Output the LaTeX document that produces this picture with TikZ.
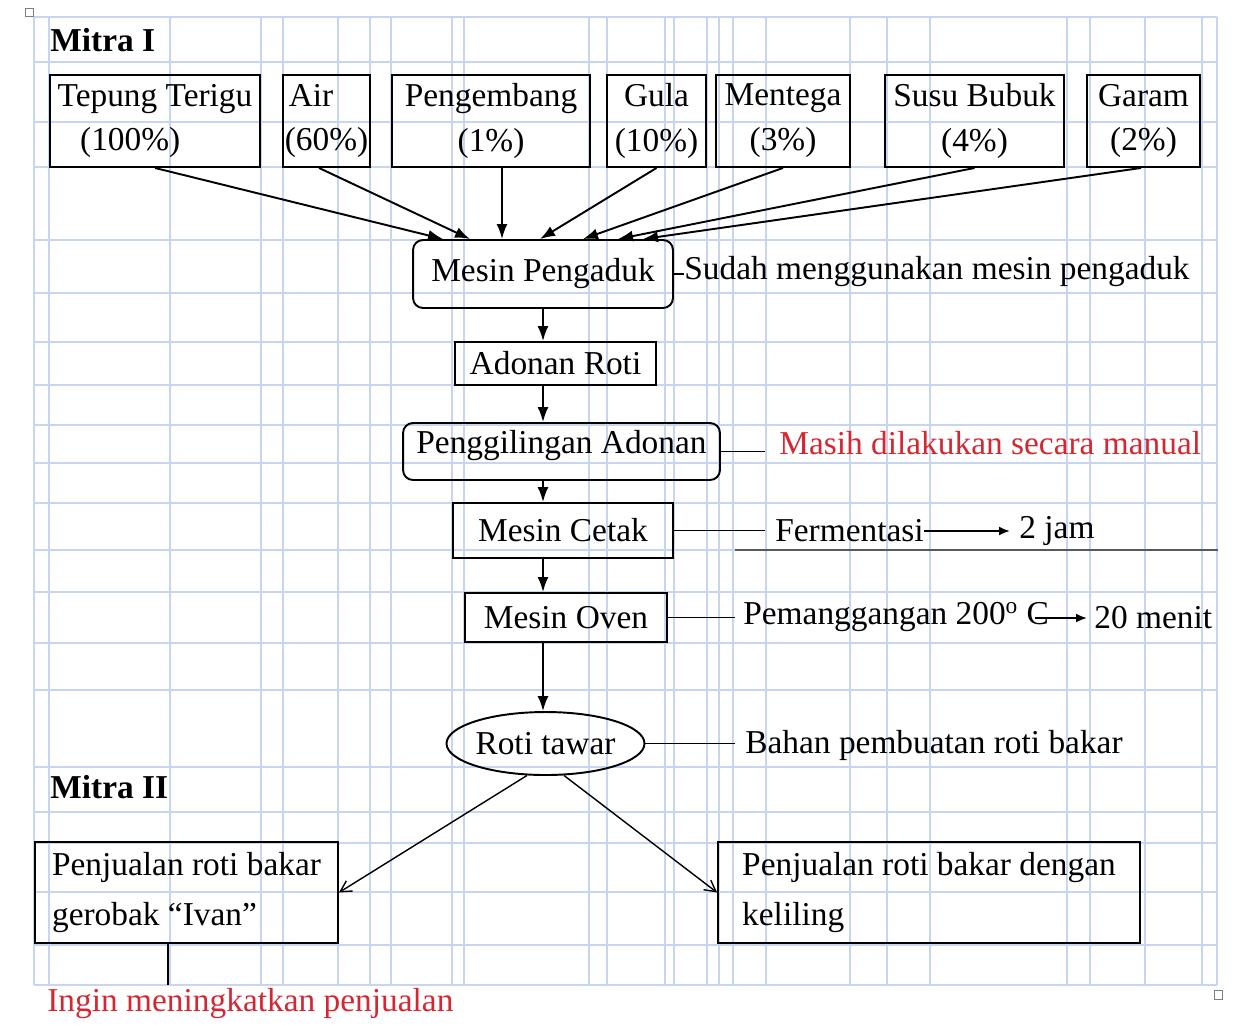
\documentclass[tikz,border=0pt]{standalone}
\usepackage{fontspec}
\setmainfont{Liberation Serif}
\usetikzlibrary{arrows.meta,shapes.geometric}
\definecolor{gridblue}{RGB}{200,213,240}
\definecolor{notered}{RGB}{214,38,50}
\begin{document}
\begin{tikzpicture}[x=0.02cm,y=-0.02cm,
  every node/.style={font=\fontsize{19}{25.6}\selectfont, inner sep=0pt},
  box/.style={draw, line width=1.1pt, align=center},
  rbox/.style={box, rounded corners=0.2cm},
  oval/.style={draw, line width=1.1pt, ellipse},
  side/.style={anchor=west},
  flow/.style={line width=1.1pt, -{Latex[length=0.3cm,width=0.22cm]}},
  smallflow/.style={line width=1.1pt, -{Latex[length=0.22cm,width=0.18cm]}},
  link/.style={line width=1.1pt},
  thinarrow/.style={line width=0.8pt, -{Straight Barb[length=0.22cm,width=0.24cm]}},
  gridln/.style={gridblue, line width=0.6pt}]
\useasboundingbox (0,0) rectangle (1239,1025);
% background table gridlines
\foreach \gx in {34,49,170,261,283,338,370,391,452,464,589,607,665,674,707,719,733,766,850,887,930,1067,1090,1145,1202,1217}
  \draw[gridln] (\gx,17) -- (\gx,985);
\foreach \gy in {17,62,122,167,240,293,342,385,425,463,503,550,592,643,690,767,812,843,892,945,985}
  \draw[gridln] (34,\gy) -- (1217,\gy);
\draw[gray!70!black, line width=0.8pt] (735,550) -- (1218,550);
\draw[gray, line width=0.5pt] (25,8) rectangle (33,16);
\draw[gray, line width=0.5pt] (1214,990) rectangle (1222,999);

% titles
\node[anchor=west] (m1) at (50,40) {\textbf{Mitra I}};
\node[anchor=west] (m2) at (50,787) {\textbf{Mitra II}};

% ingredient boxes
\node[box, align=left, minimum width=4.2cm, minimum height=1.84cm] (tep) at (155,121) {Tepung Terigu\\\hspace{0.45cm}(100\%)};
\node[box, align=left, minimum width=1.74cm, minimum height=1.84cm] (air) at (326.5,121) {\hspace{0.08cm}Air\\(60\%)};
\node[box, minimum width=3.96cm, minimum height=1.84cm] (peng) at (491,121) {Pengembang\\(1\%)};
\node[box, minimum width=1.98cm, minimum height=1.84cm] (gula) at (656.5,121) {Gula\\(10\%)};
\node[box, minimum width=2.68cm, minimum height=1.84cm] (ment) at (783,121) {Mentega\\(3\%)};
\node[box, minimum width=3.58cm, minimum height=1.84cm] (susu) at (974.5,121) {Susu Bubuk\\(4\%)};
\node[box, minimum width=2.26cm, minimum height=1.84cm] (garam) at (1143.5,121) {Garam\\(2\%)};

% process column
\node[rbox, minimum width=5.2cm, minimum height=1.36cm] (aduk) at (543,274) {Mesin Pengaduk};
\node[box, minimum width=4.02cm, minimum height=0.86cm] (adonan) at (555.5,363.5) {Adonan Roti};
\node[rbox, minimum width=6.34cm, minimum height=1.14cm, text depth=0.4cm] (giling) at (561.5,451.5) {Penggilingan Adonan};
\node[box, minimum width=4.4cm, minimum height=1.1cm] (cetak) at (563,530.5) {Mesin Cetak};
\node[box, minimum width=4.04cm, minimum height=0.98cm] (oven) at (566,617.5) {Mesin Oven};
\node[oval, minimum width=3.62cm, minimum height=1.26cm] (roti) at (545.5,743.5) {Roti tawar};

% side notes
\node[side] (sudah) at (684,272) {Sudah menggunakan mesin pengaduk};
\node[side, text=notered] (masih) at (779,443) {Masih dilakukan secara manual};
\node[side] (ferm) at (775,531) {Fermentasi};
\node[side] (jam) at (1019,531) {2 jam};
\node[side] (pem) at (743,617) {Pemanggangan 200\textsuperscript{o} C};
\node[side] (menit) at (1094,618) {20 menit};
\node[side] (bahan) at (745,745) {Bahan pembuatan roti bakar};

% Mitra II boxes
\node[box, align=left, minimum width=6.06cm, minimum height=2.02cm] (kiri) at (186.5,892.5) {Penjualan roti bakar\\[0.1cm]gerobak “Ivan”};
\node[box, align=left, minimum width=8.44cm, minimum height=2.02cm] (kanan) at (929,892.5) {Penjualan roti bakar dengan\\[0.1cm]keliling};
\node[side, text=notered] (ingin) at (47,1003) {Ingin meningkatkan penjualan};
\coordinate (ingend) at (168,985);

% ingredient arrows
\draw[flow] (tep.south) -- ([xshift=-2.0cm]aduk.north);
\draw[flow] ([xshift=-0.15cm]air.south) -- ([xshift=-1.46cm]aduk.north);
\draw[flow] ([xshift=0.22cm]peng.south) -- ([xshift=-0.82cm]aduk.north);
\draw[flow] (gula.south) -- ([xshift=-0.06cm]aduk.north);
\draw[flow] (ment.south) -- ([xshift=0.8cm]aduk.north);
\draw[flow] (susu.south) -- ([xshift=1.5cm]aduk.north);
\draw[flow] ([xshift=-0.05cm]garam.south) -- ([xshift=2.0cm]aduk.north);

% main flow
\draw[flow] (aduk.south) -- (adonan.north -| aduk);
\draw[flow] (adonan.south -| aduk) -- (giling.north -| aduk);
\draw[flow] (giling.south -| aduk) -- (cetak.north -| aduk);
\draw[flow] (cetak.south -| aduk) -- (oven.north -| aduk);
\draw[flow] (oven.south -| aduk) -- (roti.north -| aduk);

% side links
\draw[link] (aduk.east) -- (aduk.east -| sudah.west);
\draw[link, shorten >=0.28cm] (giling.east) -- (giling.east -| masih.west);
\draw[link, shorten >=0.2cm] (cetak.east) -- (cetak.east -| ferm.west);
\draw[smallflow, shorten >=0.18cm] (ferm.east) -- (jam.west);
\draw[link, shorten >=0.16cm] (oven.east) -- (oven.east -| pem.west);
\draw[smallflow, shorten >=0.14cm] ([xshift=-0.28cm]pem.east |- menit.west) -- (menit.west);
\draw[link, shorten >=0.2cm] (roti.east) -- (roti.east -| bahan.west);

% branch arrows
\draw[thinarrow] (roti.240) -- (kiri.east);
\draw[thinarrow] (roti.300) -- (kanan.west);
\draw[link, line width=0.9pt] (kiri.south -| ingend) -- (ingend);
\end{tikzpicture}
\end{document}
